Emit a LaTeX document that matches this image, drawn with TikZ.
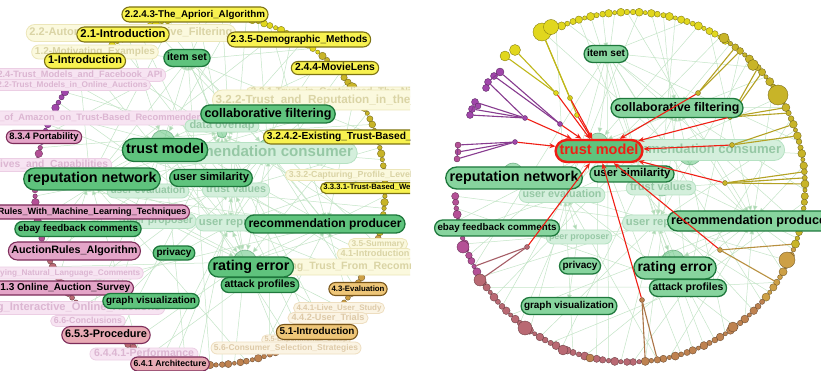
\documentclass[tikz,border=0pt]{standalone}
\usepackage{fontspec}
\setmainfont{Liberation Sans}
\usetikzlibrary{shapes.misc,arrows.meta,backgrounds}
\pgfdeclarelayer{fg}
\pgfsetlayers{background,main,fg}
\definecolor{gfill}{RGB}{95,195,125}
\definecolor{gfillR}{RGB}{135,212,158}
\definecolor{gdraw}{RGB}{30,120,60}
\definecolor{gffill}{RGB}{212,239,220}
\definecolor{gfdraw}{RGB}{182,226,195}
\definecolor{gftext}{RGB}{150,200,165}
\definecolor{yfill}{RGB}{248,242,80}
\definecolor{ydraw}{RGB}{125,115,20}
\definecolor{yffill}{RGB}{251,249,222}
\definecolor{yfdraw}{RGB}{236,230,185}
\definecolor{yftext}{RGB}{218,212,165}
\definecolor{tfill}{RGB}{238,198,120}
\definecolor{tdraw}{RGB}{120,85,25}
\definecolor{tffill}{RGB}{251,244,228}
\definecolor{tfdraw}{RGB}{238,222,192}
\definecolor{tftext}{RGB}{222,202,168}
\definecolor{pfill}{RGB}{228,165,200}
\definecolor{rfill}{RGB}{232,170,180}
\definecolor{pdraw}{RGB}{125,45,90}
\definecolor{pffill}{RGB}{247,228,242}
\definecolor{pfdraw}{RGB}{236,206,228}
\definecolor{pftext}{RGB}{220,182,210}
\definecolor{edgec}{RGB}{196,229,199}
\definecolor{edgetip}{RGB}{172,216,180}
\definecolor{dY}{RGB}{225,215,30}
\definecolor{dO}{RGB}{200,180,40}
\definecolor{dT}{RGB}{205,160,70}
\definecolor{dB}{RGB}{190,130,80}
\definecolor{dK}{RGB}{185,105,115}
\definecolor{dP}{RGB}{180,80,150}
\definecolor{dV}{RGB}{160,70,170}
\definecolor{redE}{RGB}{240,30,20}
\tikzset{
  lab/.style={rounded rectangle, inner xsep=1.5pt, inner ysep=0pt, font=\bfseries, text=black},
  gb/.style={lab, fill=gfill, draw=gdraw, line width=1.3pt},
  gbR/.style={lab, fill=gfillR, draw=gdraw, line width=1.3pt},
  gf/.style={lab, fill=gffill, draw=gfdraw, line width=0.8pt, text=gftext},
  yb/.style={lab, fill=yfill, draw=ydraw, line width=1.1pt},
  yf/.style={lab, fill=yffill, draw=yfdraw, line width=0.8pt, text=yftext},
  tb/.style={lab, fill=tfill, draw=tdraw, line width=1.1pt},
  tf/.style={lab, fill=tffill, draw=tfdraw, line width=0.8pt, text=tftext},
  pb/.style={lab, fill=pfill, draw=pdraw, line width=1.1pt},
  rb/.style={lab, fill=rfill, draw=pdraw, line width=1.1pt},
  pf/.style={lab, fill=pffill, draw=pfdraw, line width=0.8pt, text=pftext},
  adot/.style={circle, inner sep=0pt, minimum size=#1, line width=0.35pt},
  head/.style={circle, inner sep=0pt, minimum size=#1, fill=gfill, fill opacity=0.55, draw=gdraw, draw opacity=0.45, line width=0.6pt},
  faint/.style={draw=edgec, line width=0.5pt, -{Triangle[length=5pt,width=4.5pt,fill=edgetip]}},
  cedge/.style={line width=1.1pt},
  redge/.style={draw=redE, line width=1.1pt, -{Stealth[length=6pt,width=5pt]}},
}
\newcommand\lab[7]{\node[#1,minimum height=#4pt,anchor=#5] (#2) at (#3) {\resizebox{#6pt}{!}{\vphantom{Ag}#7}};}
\begin{document}
\begin{tikzpicture}[x=1pt,y=-1pt]
\begin{pgfonlayer}{background}
\fill[white] (0,0) rectangle (821,371);
\end{pgfonlayer}
\useasboundingbox (0,0) rectangle (821,371);

%================ LEFT PANEL =================
\begin{scope}
\clip (0,0) rectangle (410,371);
\foreach \a [count=\n] in {134,132,...,-224}{
  \def\dc{dY}%
  \ifdim \a pt<50.5pt \def\dc{dO}\fi
  \ifdim \a pt<-15.5pt \def\dc{dT}\fi
  \ifdim \a pt<-40.5pt \def\dc{dB}\fi
  \ifdim \a pt<-95.5pt \def\dc{dK}\fi
  \ifdim \a pt<-160.5pt \def\dc{dP}\fi
  \ifdim \a pt<-195.5pt \def\dc{dV}\fi
  \pgfmathsetmacro\s{5.8+1.8*sin(\a*67)}
  \node[adot=\s pt, fill=\dc, draw=\dc!55!black] (L\n) at ({210+175*cos(\a)},{190-175*sin(\a)}) {};
}
\node[adot=18pt, fill=dO, draw=dO!55!black] (Lb1) at (360,100) {};
\node[adot=11pt, fill=dO, draw=dO!55!black] (Lb2) at (352,88) {};
\node[adot=15pt, fill=dT, draw=dT!55!black] (Lb3) at (370,263) {};
\node[adot=8pt, fill=dY, draw=dY!55!black] (Lb4) at (95,50) {};
% heads
\node[head=24pt] (lh0) at (163,142) {};
\node[head=22pt] (lh1) at (268,150) {};
\node[head=20pt] (lh2) at (90,180) {};
\node[head=10pt] (lh3) at (222,133) {};
\node[head=14pt] (lh4) at (233,190) {};
\node[head=14pt] (lh5) at (230,225) {};
\node[head=14pt] (lh6) at (327,225) {};
\node[head=24pt] (lh7) at (245,262) {};
\node[head=10pt] (lh8) at (188,60) {};
\end{scope}

\begin{pgfonlayer}{fg}
\begin{scope}
\clip (0,0) rectangle (410,371);
% faded yellow
\lab{yf}{lA}{131,33}{17}{center}{203}{2.2-Automated\_Collaborative\_Filtering}
\lab{yf}{lB}{95,52}{14}{center}{120}{1.2-Motivating\_Examples}
\lab{yf}{lC}{246,92}{10}{west}{175}{3.2.1-Trust\_in\_Centralised\_The\_Ninth}
\lab{yf}{lD}{212,100}{20}{west}{226}{3.2.2-Trust\_and\_Reputation\_in\_the\_Web}
\lab{yf}{lE}{285,175}{11}{west}{150}{3.3.2-Capturing\_Profile\_Level\_Trust}
\lab{yf}{lF}{378,244}{11}{center}{53}{3.5-Summary}
\lab{yf}{lG}{375,254}{11}{center}{69}{4.1-Introduction}
\lab{yf}{lH}{255,267}{16}{west}{210}{Learning\_Trust\_From\_Recommendations}
% faded tan
\lab{tf}{lI}{339,308}{11}{center}{85}{4.4.1-Live\_User\_Study}
\lab{tf}{lJ}{328,318}{11}{center}{73}{4.4.2-User\_Trials}
\lab{tf}{lK}{306,340}{10}{center}{83}{5.5-Experimental\_Setup}
\lab{tf}{lL}{286,348}{12}{center}{144}{5.6-Consumer\_Selection\_Strategies}
% faded pink
\lab{pf}{lP1}{-6,75}{13}{west}{165}{2.4-Trust\_Models\_and\_Facebook\_API}
\lab{pf}{lP2}{-6,85}{11}{west}{150}{2.2-Trust\_Models\_in\_Online\_Auctions}
\lab{pf}{lP3}{-30,118}{14}{west}{232}{Study\_of\_Amazon\_on\_Trust-Based\_Recommenders}
\lab{pf}{lP4}{-36,165}{13}{west}{140}{Objectives\_and\_Capabilities}
\lab{pf}{lP5}{-30,273}{12}{west}{167}{Classifying\_Natural\_Language\_Comments}
\lab{pf}{lP6}{-74,308}{13}{west}{230}{6.2-Designing\_Interactive\_Online\_Auctions}
\lab{pf}{lP7}{88,321}{11}{center}{68}{6.6-Conclusions}
\lab{pf}{lP8}{144,354}{12}{center}{100}{6.4.4.1-Performance}
% faded green
\lab{gf}{lDO}{222,126}{12}{center}{65}{data overlap}
\lab{gf}{lRC}{254,153}{21}{center}{198}{recommendation consumer}
\lab{gf}{lTV}{236,190}{14}{center}{60}{trust values}
\lab{gf}{lUE}{148,191}{14}{center}{75}{user evaluation}
\lab{gf}{lPP}{158,221}{15}{center}{70}{peer proposer}
\lab{gf}{lUR}{195,223}{16}{west}{82}{user reputation}
% bright yellow
\lab{yb}{lApr}{195,14.5}{15}{center}{140}{2.2.4.3-The\_Apriori\_Algorithm}
\lab{yb}{lIntroA}{123,34.5}{15}{center}{85}{2.1-Introduction}
\lab{yb}{lDemo}{299,39.5}{15}{center}{137}{2.3.5-Demographic\_Methods}
\lab{yb}{lIntroB}{85,61}{15}{center}{74}{1-Introduction}
\lab{yb}{lMovie}{335,68}{13}{center}{80}{2.4.4-MovieLens}
\lab{yb}{lExist}{263,137}{14}{west}{185}{3.2.4.2-Existing\_Trust-Based\_Filtering}
\lab{yb}{lWeigh}{320,188}{11}{west}{113}{3.3.3.1-Trust-Based\_Weighting}
% bright tan
\lab{tb}{lEval}{358,289}{13}{center}{53}{4.3-Evaluation}
\lab{tb}{lIntroC}{317,332}{15}{center}{75}{5.1-Introduction}
% bright pink
\lab{pb}{lPort}{44,137}{13}{center}{69}{8.3.4 Portability}
\lab{pb}{lRules}{190,212}{14}{east}{232}{Learning\_Rules\_With\_Machine\_Learning\_Techniques}
\lab{pb}{lAuct}{141,251}{18}{east}{126}{AuctionRules\_Algorithm}
\lab{pb}{lSurv}{134,288}{14}{east}{138}{6.1.3 Online\_Auction\_Survey}
\lab{rb}{lProc}{106,335}{17}{center}{82}{6.5.3-Procedure}
\lab{rb}{lArch}{170,364}{14}{center}{73}{6.4.1 Architecture}
% bright green
\lab{gb}{lIS}{187,58}{17}{center}{40}{item set}
\lab{gb}{lCF}{268,114}{18}{center}{127}{collaborative filtering}
\lab{gb}{lTM}{165,150}{23}{center}{78}{trust model}
\lab{gb}{lRN}{92,179}{22}{center}{129}{reputation network}
\lab{gb}{lUS}{211,178}{17}{center}{76}{user similarity}
\lab{gb}{lEB}{78,229}{15}{center}{120}{ebay feedback comments}
\lab{gb}{lRP}{325,224}{18}{center}{153}{recommendation producer}
\lab{gb}{lPR}{174,253}{14}{center}{35}{privacy}
\lab{gb}{lRE}{251,267}{20}{center}{77}{rating error}
\lab{gb}{lAP}{260,285}{15}{center}{71}{attack profiles}
\lab{gb}{lGV}{151,301}{15}{center}{90}{graph visualization}
\end{scope}
\end{pgfonlayer}

\begin{pgfonlayer}{background}
\begin{scope}
\clip (0,0) rectangle (410,371);
\foreach \n in {1,3,...,179}{
  \pgfmathtruncatemacro\k{mod(\n*7,9)}
  \draw[faint] (L\n) -- (lh\k);
}
\foreach \u/\v in {lh0/lh1,lh1/lh4,lh2/lh0,lh4/lh7,lh5/lh7,lh6/lh1,lh3/lh8,lh0/lh5,lh7/lh6,lh2/lh5}{
  \draw[faint] (\u) -- (\v);
}
\end{scope}
\end{pgfonlayer}

%================ RIGHT PANEL =================
\begin{scope}
\clip (412,0) rectangle (821,371);
\foreach \a [count=\n] in {121,119,...,-177}{
  \def\dc{dY}%
  \ifdim \a pt<55.5pt \def\dc{dO}\fi
  \ifdim \a pt<-20.5pt \def\dc{dT}\fi
  \ifdim \a pt<-40.5pt \def\dc{dB}\fi
  \ifdim \a pt<-86.5pt \def\dc{dK}\fi
  \ifdim \a pt<-150.5pt \def\dc{dP}\fi
  \pgfmathsetmacro\s{6.2+2*sin(\a*71)}
  \node[adot=\s pt, fill=\dc, draw=\dc!55!black] (R\n) at ({630+175*cos(\a)},{187-175*sin(\a)}) {};
}
% big / explicit dots
\node[adot=18pt, fill=dY, draw=dY!55!black] (ry1) at (542,32) {};
\node[adot=15pt, fill=dY, draw=dY!55!black] (ry2) at (551,27) {};
\node[adot=11pt, fill=dY, draw=dY!55!black] (ry3) at (515,50) {};
\node[adot=10pt, fill=dY, draw=dY!55!black] (ry4) at (505,56) {};
\node[adot=10pt, fill=dO, draw=dO!55!black] (ry5) at (724,38) {};
\node[adot=20pt, fill=dO, draw=dO!55!black] (ro1) at (778,95) {};
\node[adot=11pt, fill=dO, draw=dO!55!black] (ro2) at (753,65) {};
\node[adot=16pt, fill=dT, draw=dT!55!black] (rt1) at (787,260) {};
\node[adot=10pt, fill=dB, draw=dB!55!black] (rt2) at (733,327) {};
\node[adot=12pt, fill=dK, draw=dK!55!black] (rk1) at (480,280) {};
\node[adot=12pt, fill=dP, draw=dP!55!black] (rk2) at (463,247) {};
\node[adot=14pt, fill=dK, draw=dK!55!black] (rk3) at (525,328) {};
\node[adot=10pt, fill=dK, draw=dK!55!black] (rk4) at (563,350) {};
\node[adot=8pt, fill=dB, draw=dB!55!black] (rk5) at (590,358) {};
% purple clusters
\node[adot=8pt, fill=dV, draw=dV!55!black] (rp1) at (500,72) {};
\node[adot=7pt, fill=dV, draw=dV!55!black] (rp2) at (494,76) {};
\node[adot=7pt, fill=dV, draw=dV!55!black] (rp3) at (488,82) {};
\node[adot=7pt, fill=dV, draw=dV!55!black] (rp4) at (486,88) {};
\node[adot=7pt, fill=dV, draw=dV!55!black] (rp5) at (475,102) {};
\node[adot=7pt, fill=dV, draw=dV!55!black] (rp6) at (472,109) {};
\node[adot=7pt, fill=dV, draw=dV!55!black] (rp7) at (470,115) {};
\node[adot=6pt, fill=dV, draw=dV!55!black] (rp8) at (478,106) {};
\node[adot=6pt, fill=dP, draw=dP!55!black] (rp9) at (458,145) {};
\node[adot=6pt, fill=dP, draw=dP!55!black] (rp10) at (458,152) {};
\node[adot=6pt, fill=dP, draw=dP!55!black] (rp11) at (457,159) {};
% heads
\node[head=20pt] (rh0) at (598,143) {};
\node[head=24pt] (rh1) at (690,153) {};
\node[head=16pt] (rh2) at (677,108) {};
\node[head=10pt] (rh3) at (642,108) {};
\node[head=10pt] (rh4) at (607,53) {};
\node[head=20pt] (rh5) at (513,173) {};
\node[head=12pt] (rh6) at (565,195) {};
\node[head=16pt] (rh7) at (662,188) {};
\node[head=14pt] (rh8) at (657,222) {};
\node[head=10pt] (rh9) at (578,235) {};
\node[head=18pt] (rh10) at (753,220) {};
\node[head=24pt] (rh11) at (673,262) {};
\node[head=12pt] (rh12) at (687,287) {};
\node[head=10pt] (rh13) at (568,305) {};
\end{scope}

\begin{pgfonlayer}{fg}
\begin{scope}
\clip (412,0) rectangle (821,371);
% faded green
\lab{gf}{rRC}{785,150}{21}{east}{172}{recommendation consumer}
\lab{gf}{rTV}{661,188}{14}{center}{62}{trust values}
\lab{gf}{rUE}{562,195}{15}{center}{79}{user evaluation}
\lab{gf}{rPP}{579,237}{14}{center}{60}{peer proposer}
\lab{gf}{rUR}{622,223}{16}{west}{82}{user reputation}
% relays
\node[adot=5pt, fill=dY, draw=dY!55!black] (rl1) at (556,93) {};
\node[adot=5pt, fill=dY, draw=dY!55!black] (rl2) at (570,98) {};
\node[adot=5pt, fill=dY, draw=dY!55!black] (rl3) at (577,115) {};
\node[adot=5pt, fill=dV, draw=dV!55!black] (rl4) at (525,118) {};
\node[adot=5pt, fill=dV, draw=dV!55!black] (rl5) at (560,124) {};
\node[adot=5pt, fill=dV, draw=dV!55!black] (rl6) at (515,142) {};
\node[adot=5pt, fill=dO, draw=dO!55!black] (rl8) at (698,93) {};
\node[adot=5pt, fill=dO, draw=dO!55!black] (rl9) at (730,117) {};
\node[adot=5pt, fill=dO, draw=dO!55!black] (rl10) at (732,145) {};
\node[adot=5pt, fill=dO, draw=dO!55!black] (rl11) at (725,183) {};
\node[adot=5pt, fill=dT, draw=dT!55!black] (rl12) at (720,250) {};
\node[adot=5pt, fill=dB, draw=dB!55!black] (rl13) at (642,300) {};
\node[adot=5pt, fill=dK, draw=dK!55!black] (rl14) at (527,247) {};
% coloured edges
\foreach \u/\v in {ry1/rl2,ry1/rl3,ry3/rl1,ry4/rl1}{\draw[cedge, draw=dY!85!black] (\u) -- (\v);}
\foreach \u/\v in {rp1/rl5,rp3/rl4,rp2/rl5,rp5/rl4,rp7/rl4,rp6/rl4,rp9/rl6,rp10/rl6,rp11/rl6,rp1/rp3,rp5/rp7,rp9/rp11}{\draw[cedge, draw=dV!85!black] (\u) -- (\v);}
\foreach \u/\v in {R35/rl8,R36/rl8,R40/rl9,R41/rl9,R48/rl9,R49/rl9,R51/rl10,R53/rl10,R59/rl11,R60/rl11,R61/rl11}{\draw[cedge, draw=dO!90!black] (\u) -- (\v);}
\foreach \u/\v in {R71/rl12,R78/rl12}{\draw[cedge, draw=dT!90!black] (\u) -- (\v);}
\foreach \u/\v in {R102/rl13,R104/rl13}{\draw[cedge, draw=dB!90!black] (\u) -- (\v);}
\foreach \u/\v in {rk1/rl14,R138/rl14}{\draw[cedge, draw=dK!90!black] (\u) -- (\v);}
% bright green
\lab{gbR}{rIS}{606,54}{17}{center}{38}{item set}
\lab{gbR}{rCF}{677,108}{19}{center}{125}{collaborative filtering}
\lab{gbR}{rRN}{514,178}{22}{center}{129}{reputation network}
\lab{gbR}{rUS}{632,174}{16}{center}{77}{user similarity}
\lab{gbR}{rEB}{497,228}{16}{center}{119}{ebay feedback comments}
\lab{gbR}{rRP}{667,221}{20}{west}{160}{recommendation producer}
\lab{gbR}{rPR}{580,266}{16}{center}{35}{privacy}
\lab{gbR}{rRE}{675,268}{22}{center}{75}{rating error}
\lab{gbR}{rAP}{688,288}{17}{center}{71}{attack profiles}
\lab{gbR}{rGV}{569,306}{17}{center}{90}{graph visualization}
% highlighted node
\node[rounded rectangle, fill=gfill, draw=redE, line width=2.4pt, minimum height=22pt, inner xsep=1.5pt, inner ysep=0pt, text=redE, font=\bfseries] (rtm) at (599,151) {\resizebox{79pt}{!}{\vphantom{Ag}trust model}};
% red edges
\foreach \u in {rl1,rl2,rl3,rl4,rl5,rl6,rl8,rl9,rl10,rl11,rl12,rl13,rl14}{\draw[redge] (\u) -- (rtm);}
\end{scope}
\end{pgfonlayer}

\begin{pgfonlayer}{background}
\begin{scope}
\clip (412,0) rectangle (821,371);
\foreach \n in {2,4,...,150}{
  \pgfmathtruncatemacro\k{mod(\n*5,14)}
  \draw[faint] (R\n) -- (rh\k);
}
\foreach \u/\v in {rh0/rh1,rh1/rh7,rh2/rh3,rh5/rh6,rh6/rh9,rh8/rh11,rh10/rh11,rh9/rh13,rh12/rh11,rh4/rh3,rh7/rh8,rh0/rh6}{
  \draw[faint] (\u) -- (\v);
}
\end{scope}
\end{pgfonlayer}
\end{tikzpicture}
\end{document}
